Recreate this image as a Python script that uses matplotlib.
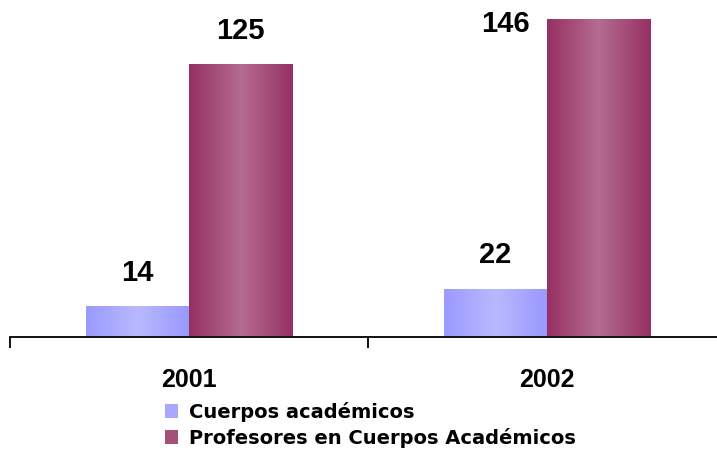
import os
import numpy as np
import matplotlib.pyplot as plt
from matplotlib import font_manager
from matplotlib.patches import Patch
from matplotlib.colors import LinearSegmentedColormap

years = ["2001", "2002"]
cuerpos = [14, 22]
profesores = [125, 146]
series_names = ["Cuerpos académicos", "Profesores en Cuerpos Académicos"]

plt.rcParams['font.family'] = ['Liberation Sans', 'DejaVu Sans']
plt.rcParams['font.stretch'] = 'normal'

# pick the regular-width Liberation Sans Bold file explicitly
bold_file = None
for f in font_manager.fontManager.ttflist:
    if os.path.basename(f.fname) == "LiberationSans-Bold.ttf":
        bold_file = f.fname
        break


def bold(size):
    if bold_file:
        return font_manager.FontProperties(fname=bold_file, size=size)
    return font_manager.FontProperties(family="Liberation Sans",
                                       weight="bold", size=size)


blue_cmap = LinearSegmentedColormap.from_list(
    "b", ["#9a9aff", "#b9b9ff", "#9898ff"])
red_cmap = LinearSegmentedColormap.from_list(
    "r", ["#963163", "#b56c90", "#963163"])

fig = plt.figure(figsize=(7.17, 4.5), dpi=100)
ax = fig.add_axes([10 / 717, 113.5 / 450, 716 / 717, 336.5 / 450])

x = np.arange(len(years))
w = 0.288
grad = np.linspace(0, 1, 256).reshape(1, -1)


def grad_bars(xs, vals, cmap):
    bars = ax.bar(xs, vals, w, color="none", edgecolor="none")
    for b in bars:
        x0, y0 = b.get_x(), b.get_y()
        im = ax.imshow(grad, cmap=cmap, aspect="auto",
                       extent=[x0, x0 + b.get_width(), y0, y0 + b.get_height()],
                       zorder=2)
        im.set_clip_path(b)
    return bars


b1 = grad_bars(x - w / 2, cuerpos, blue_cmap)
b2 = grad_bars(x + w / 2, profesores, red_cmap)

ax.set_xlim(-0.5, 1.5)
ax.set_ylim(0, 154.5)

# value labels
for b, v in zip(b1, cuerpos):
    ax.annotate(str(v), (b.get_x() + b.get_width() / 2, v), xytext=(0, 14),
                textcoords="offset points", ha="center", va="bottom",
                fontproperties=bold(21))
ax.annotate(str(profesores[0]), (b2[0].get_x() + w / 2, profesores[0]),
            xytext=(0, 14), textcoords="offset points", ha="center",
            va="bottom", fontproperties=bold(21))
ax.annotate(str(profesores[1]), (b2[1].get_x() + w / 2, profesores[1]),
            xytext=(-67, -14), textcoords="offset points", ha="center",
            va="bottom", fontproperties=bold(21))

for s in ["top", "right", "left"]:
    ax.spines[s].set_visible(False)
ax.spines["bottom"].set_linewidth(1.3)
ax.set_yticks([])
ax.set_xticks([-0.5, 0.5, 1.5])
ax.set_xticklabels([])
ax.tick_params(axis="x", length=8, width=1.3, direction="out")
for xi, yr in zip(x, years):
    ax.text(xi, -0.13, yr, transform=ax.get_xaxis_transform(),
            ha="center", va="center", fontproperties=bold(18))

handles = [Patch(facecolor="#a8a8ff"), Patch(facecolor="#a5507a")]
fig.legend(handles, series_names, loc="upper left",
           bbox_to_anchor=(157 / 717, 1 - 394 / 450), frameon=False,
           handlelength=0.7, handleheight=0.7,
           handletextpad=0.55, labelspacing=0.3, borderaxespad=0,
           prop={"family": "DejaVu Sans", "weight": "bold", "size": 14})

fig.savefig("out.png", dpi=100)
